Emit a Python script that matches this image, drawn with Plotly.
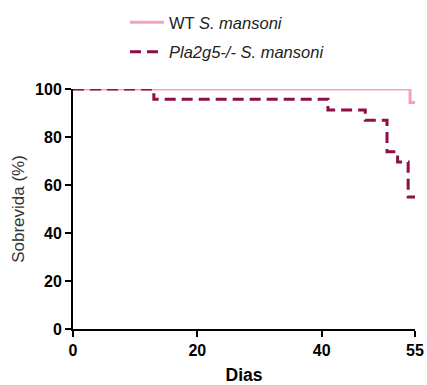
import plotly.graph_objects as go

# Kaplan-Meier steps (days, survival %)
wt_days = [0, 54.2, 55]
wt_surv = [100, 94.4, 94.4]

ko_days = [0, 13, 41, 47, 50.5, 52.2, 53.9, 55]
ko_surv = [100, 95.7, 91.3, 87.0, 73.9, 69.6, 55.0, 55.0]

x_ticks = [0, 20, 40, 55]
y_ticks = [0, 20, 40, 60, 80, 100]

WT_COLOR = "#F4A0C4"
KO_COLOR = "#8E0F48"

fig = go.Figure()
fig.add_trace(go.Scatter(
    x=wt_days, y=wt_surv, mode="lines", line_shape="hv",
    line=dict(color=WT_COLOR, width=3),
    name="WT <i>S. mansoni</i>", legendgroup="a", cliponaxis=False,
))
fig.add_trace(go.Scatter(
    x=ko_days, y=ko_surv, mode="lines", line_shape="hv",
    line=dict(color=KO_COLOR, width=3, dash="11px,6px"),
    name="<i>Pla2g5-/- S. mansoni</i>", legendgroup="b", cliponaxis=False,
))

font_family = "Liberation Sans, Arial, sans-serif"
fig.update_layout(
    width=427, height=385,
    margin=dict(l=73, r=12, t=89, b=56, autoexpand=False),
    paper_bgcolor="white", plot_bgcolor="white",
    font=dict(family=font_family, color="black"),
    showlegend=True,
    legend=dict(x=0.152, y=1.35, xanchor="left", yanchor="top",
                font=dict(size=16.5, color="#222"), tracegroupgap=5,
                itemwidth=34,
                bgcolor="rgba(0,0,0,0)"),
    xaxis=dict(range=[0, 55], tickvals=x_ticks, showgrid=False, zeroline=False,
               showline=True, linecolor="black", linewidth=2,
               ticks="outside", ticklen=6, tickwidth=2, tickcolor="black",
               tickfont=dict(size=16, family=font_family, weight="bold"),
               title=dict(text="<b>Dias</b>", font=dict(size=17.5), standoff=11)),
    yaxis=dict(range=[0, 100], tickvals=y_ticks, showgrid=False, zeroline=False,
               showline=True, linecolor="black", linewidth=2,
               ticks="outside", ticklen=6, tickwidth=2, tickcolor="black",
               tickfont=dict(size=16, family=font_family, weight="bold"),
               title=dict(text="Sobrevida (%)", font=dict(size=17, color="#333"), standoff=6)),
)

fig.write_html(
    "out.html",
    config={"displayModeBar": False},
    post_script="document.body.style.margin='0';document.body.style.overflow='hidden';",
)
